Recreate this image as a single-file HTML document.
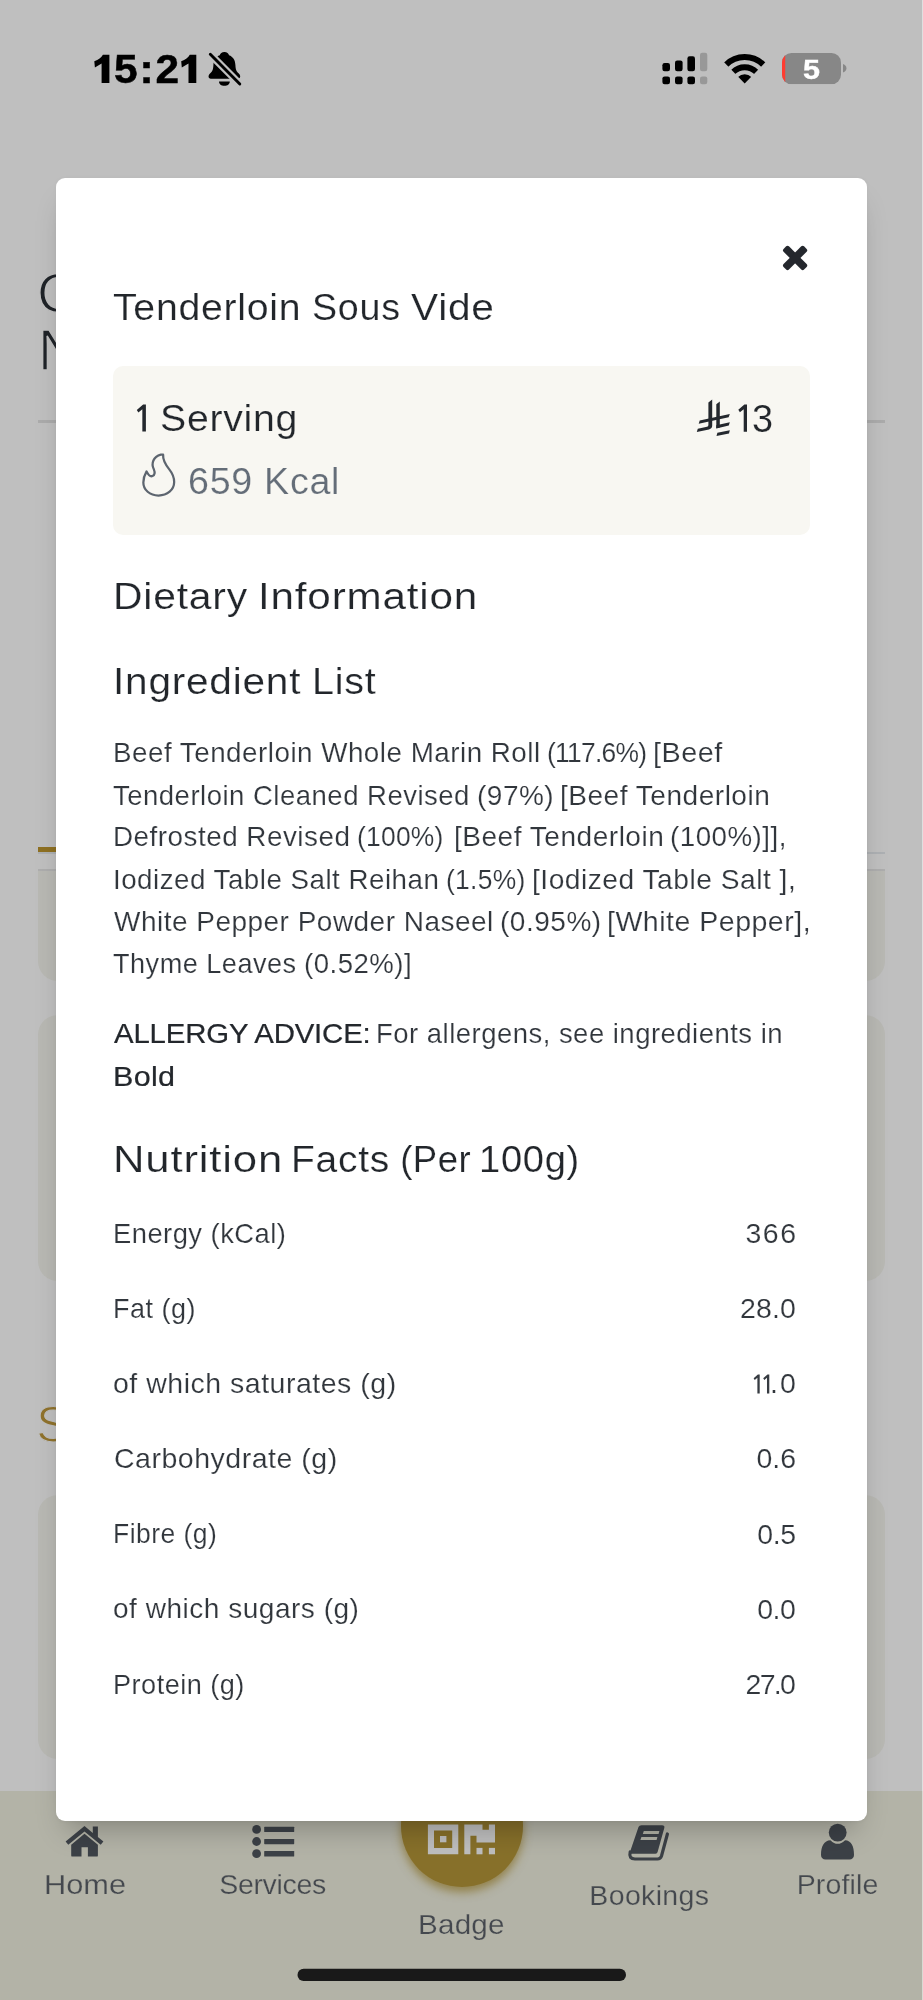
<!DOCTYPE html>
<html lang="en">
<head>
<meta charset="utf-8">
<title>Tenderloin Sous Vide</title>
<style>
html,body{margin:0;padding:0}
body{width:923px;height:2000px;position:relative;overflow:hidden;background:#bfbfbf;font-family:"Liberation Sans",sans-serif}
.abs{position:absolute}
.t{position:absolute;white-space:pre;line-height:1;transform-origin:0 0}
.h{font-size:0;letter-spacing:0;-webkit-text-stroke:0}
.layer{position:absolute;left:0;top:0;width:923px;height:2000px;will-change:transform}
.card{position:absolute;left:38px;width:847px;background:#b8b8b3}
svg{position:absolute;overflow:visible}
</style>
</head>
<body>
<!-- dimmed page behind the modal -->
<div class="layer">
<span class="t" style="left:37px;top:264.6px;font-size:56px;color:#1f2328;-webkit-text-stroke:1.4px #bfbfbf">C</span>
<span class="t" style="left:38px;top:321.5px;font-size:57px;color:#1f2328;-webkit-text-stroke:1.4px #bfbfbf">N</span>
<div class="abs" style="left:38px;top:420px;width:847px;height:2.5px;background:#ababab"></div>
<div class="abs" style="left:38px;top:852px;width:847px;height:2px;background:#adb0b3"></div>
<div class="abs" style="left:38px;top:847px;width:190px;height:5px;background:#8e7022"></div>
<div class="card" style="top:868.5px;height:112px;border-radius:0 0 20px 20px;border-top:2.5px solid #adadad;box-sizing:border-box"></div>
<div class="card" style="top:1015px;height:266px;border-radius:20px"></div>
<span class="t" style="left:36.3px;top:1400.3px;font-size:50px;color:#8f722c;-webkit-text-stroke:1.1px #bfbfbf">S</span>
<div class="card" style="top:1495px;height:264px;border-radius:20px"></div>
</div>

<!-- bottom nav -->
<div class="abs" style="left:0;top:1790.8px;width:923px;height:210px;background:#b3b3a7"></div>
<div class="abs" style="left:400.5px;top:1764.1px;width:122.6px;height:122.6px;border-radius:50%;background:#87702a;box-shadow:0 5px 10px 0 rgba(135,112,42,.75)"></div>
<svg style="left:0;top:1800px" width="923" height="200" viewBox="0 1800 923 200">
 <g fill="#3c4147">
  <!-- home -->
  <path d="M84.5 1826 L65.6 1841.6 L68.3 1844.8 L84.5 1831.4 L100.7 1844.8 L103.4 1841.6 L97.9 1837.1 V1826.4 H92.8 V1832.9 Z"/>
  <path d="M84.5 1833.7 L71.2 1844.7 V1855.4 Q71.2 1856.6 72.4 1856.6 H81.5 V1847.2 H87.9 V1856.6 H96.7 Q97.9 1856.6 97.9 1855.4 V1844.7 Z"/>
  <!-- services list -->
  <circle cx="256.6" cy="1829.4" r="4.4"/><circle cx="256.6" cy="1841.5" r="4.4"/><circle cx="256.6" cy="1853.7" r="4.4"/>
  <rect x="264.2" y="1826.7" width="30" height="5.4" rx=".6"/><rect x="264.2" y="1838.9" width="30" height="5.3" rx=".6"/><rect x="264.2" y="1851" width="30" height="5.5" rx=".6"/>
  <!-- bookings book -->
  <path d="M641.5 1825.2 H662 Q665 1825.2 664.3 1828 L657.6 1852 Q657.2 1853.7 655.5 1853.7 H631.5 Q629.5 1853.7 630.3 1851 L638.5 1827 Q639.2 1825.2 641.5 1825.2 Z"/>
  <path d="M630.2 1852 Q628.5 1859 635 1859 H657.5 Q660.5 1859 661.5 1856 L667.4 1834" fill="none" stroke="#3c4147" stroke-width="3.2" stroke-linecap="round"/>
  <path d="M643.8 1830.9 H659.4 L658.6 1834 H642.8 Z M641.4 1837 H657.4 L656.6 1840 H640.4 Z" fill="#b0b1a5"/>
  <!-- profile -->
  <mask id="pm" maskUnits="userSpaceOnUse" x="800" y="1815" width="80" height="60"><rect x="800" y="1815" width="80" height="60" fill="#fff"/><circle cx="837.7" cy="1832.6" r="10.3" fill="#000"/></mask>
  <path mask="url(#pm)" d="M821 1855 C821 1846 824 1840.5 830.5 1840.2 C833 1842.8 835.3 1843.8 837.7 1843.8 C840.1 1843.8 842.4 1842.8 844.9 1840.2 C851.4 1840.5 854 1846 854 1855 C854 1858 852 1859.4 849.5 1859.4 H825.5 C823 1859.4 821 1858 821 1855 Z"/>
  <circle cx="837.7" cy="1832.6" r="8.9"/>
 </g>
 <!-- badge qr -->
 <g fill="#bebebe">
  <path fill-rule="evenodd" d="M427.9 1824.4 H458.3 V1854.3 H427.9 Z M434 1830.5 V1847.9 H452.2 V1830.5 Z"/>
  <rect x="440" y="1836" width="6.4" height="6.3"/>
  <path d="M464.3 1824.4 H482.5 V1829.7 H488.9 V1824.4 H495 V1842.6 H476.5 V1835.8 H470.4 V1854.3 H464.3 Z"/>
  <rect x="476.5" y="1847.9" width="6" height="6.4"/><rect x="488.9" y="1847.9" width="6.1" height="6.4"/>
 </g>
 <!-- home indicator -->
 <rect x="297.5" y="1968.8" width="328.5" height="12.2" rx="6.1" fill="#191919"/>
</svg>

<!-- modal -->
<div class="abs" style="left:56px;top:178px;width:810.6px;height:1643.4px;background:#fff;border-radius:9px;box-shadow:0 18px 28px -11px rgba(0,0,0,.27),0 1px 5px rgba(0,0,0,.05)"></div>
<div class="abs" style="left:113px;top:366px;width:696.5px;height:169px;background:#f8f7f2;border-radius:10px"></div>
<svg style="left:0;top:0" width="923" height="600" viewBox="0 0 923 600">
 <!-- close -->
 <g fill="#24272d"><rect x="780.6" y="254.1" width="29" height="7.6" rx="2" transform="rotate(45 795.1 257.9)"/><rect x="780.6" y="254.1" width="29" height="7.6" rx="2" transform="rotate(-45 795.1 257.9)"/></g>
 <!-- riyal -->
 <g fill="#24282e" transform="translate(690 394)">
  <path d="M18.4 8.4 L22.2 5.4 V31.5 Q22.2 34.6 19 35.4 L6.8 38 L7.8 34.8 L17 32.8 Q18.4 32.5 18.4 31 Z"/>
  <path d="M26.3 10.3 L29.8 7.6 V33.5 L26.3 34.3 Z"/>
  <path d="M9.7 26.5 L39.8 20 L38.7 23.3 L8.7 29.8 Z"/>
  <path d="M26.3 31.2 L39.8 28.2 L38.8 31.4 L26.3 34.5 Z"/>
  <path d="M27.4 38.7 L39.8 36.3 L39 39.4 L26.5 42 Z"/>
 </g>
 <path d="M747 404.6 V431.8 H743.7 V409.2 L739.9 412.2 L738.3 409.8 L744.4 404.6 Z" fill="#24282e"/>
 <path d="M145.9 404.6 V431.5 H142.34 V409.15 L138.38 412.41 L136.80 409.94 L143.13 404.6 Z" fill="#24282e"/>
 <!-- flame -->
 <path transform="translate(123.1 442.9) scale(.92)" d="M25.5 31 C27.5 35 30 36.8 32 36 C34.5 35 34.8 32 33.5 29 C30 22 33 15 41 12.8 L43.5 12.8 C43 19 46 23.5 50 28.5 C54 33.5 55.5 38 55.5 42.5 C55.5 51 48 57.2 38.5 57.2 C29 57.2 22 51 22 43 C22 38 23.5 34.5 25.5 31 Z" fill="none" stroke="#5d656f" stroke-width="2.45" stroke-linejoin="round" style="filter:blur(.55px)"/>
 <!-- time digit 1s -->
 <path d="M109.4 54.8 V83.1 H101.6 V63.6 L94.9 67.4 L94.3 61.2 Q100.6 59 102.9 54.8 Z M196.3 54.8 V83.1 H188.5 V63.6 L181.8 67.4 L181.2 61.2 Q187.5 59 189.8 54.8 Z" fill="#000"/>
 <!-- status: bell slash -->
 <g transform="translate(200 44)">
  <path d="M24.4 7.9 C27 7.9 28.6 9.4 29 11.2 C33 12.6 35.2 16 35.4 21 C35.6 25.5 36.5 27.5 38.8 29.6 C40.8 31.5 40.8 34.7 38 34.7 L10.8 34.7 C8 34.7 8 31.5 10 29.6 C12.3 27.5 13.2 25.5 13.4 21 C13.6 16 15.8 12.6 19.8 11.2 C20.2 9.4 21.8 7.9 24.4 7.9 Z M19 37.4 H29.8 C29.8 40 27.5 41.8 24.4 41.8 C21.3 41.8 19 40 19 37.4 Z" fill="#000"/>
  <path d="M10.3 10.3 L39.8 40" stroke="#bfbfbf" stroke-width="7.4"/>
  <path d="M10.3 10.3 L39.8 40" stroke="#000" stroke-width="2.9" stroke-linecap="round"/>
 </g>
 <!-- signal -->
 <g fill="#000">
  <rect x="662.4" y="63" width="7.6" height="8.2" rx="2.2"/><rect x="675" y="60.4" width="7.6" height="10.8" rx="2.2"/><rect x="687.4" y="56.3" width="7.6" height="14.9" rx="2.2"/>
  <rect x="662.4" y="76.4" width="7.6" height="7.8" rx="2.2"/><rect x="675" y="76.4" width="7.6" height="7.8" rx="2.2"/><rect x="687.4" y="76.4" width="7.6" height="7.8" rx="2.2"/>
 </g>
 <g fill="#989898"><rect x="700" y="52.7" width="7.3" height="18.5" rx="2.2"/><rect x="700" y="76.4" width="7.3" height="7.8" rx="2.2"/></g>
 <!-- wifi -->
 <defs><clipPath id="wf"><path d="M744.7 83.6 L712 49.8 H777.4 Z"/></clipPath></defs>
 <g clip-path="url(#wf)" fill="none" stroke="#000" stroke-width="5.9">
  <circle cx="744.7" cy="83.6" r="26.6"/><circle cx="744.7" cy="83.6" r="16.4"/><circle cx="744.7" cy="83.6" r="9.4" fill="#000" stroke="none"/>
 </g>
 <!-- battery -->
 <defs><clipPath id="bt"><rect x="782" y="53" width="59" height="31.2" rx="9.5"/></clipPath></defs>
 <g clip-path="url(#bt)"><rect x="782" y="53" width="59" height="31.2" fill="#878787"/><rect x="782" y="53" width="3.2" height="31.2" fill="#ff3b30"/></g>
 <path d="M843 64 Q846.4 65.2 846.4 68.2 Q846.4 71.2 843 72.4 Z" fill="#878787"/>
</svg>

<svg style="left:0;top:1300px" width="923" height="200" viewBox="0 1300 923 200"><path d="M759.7 1374.6 V1393.6 H757.39 V1377.81 L754.74 1379.91 L753.62 1378.23 L757.88 1374.6 Z" fill="#363b41"/><path d="M769.3 1374.6 V1393.6 H766.99 V1377.81 L764.34 1379.91 L763.22 1378.23 L767.48 1374.6 Z" fill="#363b41"/></svg>
<div class="layer">
<span class="t" style="left:114.10px;top:49.34px;font-size:40px;color:#000;font-weight:700;-webkit-text-stroke:0.5px #000;letter-spacing:1.802px;transform:scaleX(1.06)"><span class="h">1</span>5:2<span class="h">1</span></span>
<span class="t" style="left:802.66px;top:56.12px;font-size:27.5px;color:#fff;font-weight:700;-webkit-text-stroke:0.4px #fff;transform:scaleX(1.1107)">5</span>
<span class="t" style="left:112.62px;top:290.40px;font-size:36.5px;color:#22262b;-webkit-text-stroke:0.2px #fff;letter-spacing:0.697px;transform:scaleX(1.074)">Tenderloin</span>
<span class="t" style="left:311.59px;top:290.40px;font-size:36.5px;color:#22262b;-webkit-text-stroke:0.2px #fff;letter-spacing:0.707px;transform:scaleX(1.031)">Sous</span>
<span class="t" style="left:411.02px;top:290.40px;font-size:36.5px;color:#22262b;-webkit-text-stroke:0.2px #fff;letter-spacing:0.696px;transform:scaleX(1.114)">Vide</span>
<span class="t" style="left:160.22px;top:399.86px;font-size:37.5px;color:#22262b;-webkit-text-stroke:0.2px #f8f7f2;letter-spacing:0.702px;transform:scaleX(1.046)"><span class="h">1 </span>Serving</span>
<span class="t" style="left:188.09px;top:463.48px;font-size:37px;color:#646d78;-webkit-text-stroke:0.2px #f8f7f2;letter-spacing:0.700px;transform:scaleX(1.017)">659 Kcal</span>
<span class="t" style="left:751.56px;top:399.29px;font-size:39px;color:#22262b;-webkit-text-stroke:0.2px #f8f7f2;transform:scaleX(0.9728)"><span class="h">1</span>3</span>
<span class="t" style="left:113.15px;top:579.10px;font-size:36.5px;color:#22262b;-webkit-text-stroke:0.2px #fff;letter-spacing:0.707px;transform:scaleX(1.119)">Dietary</span>
<span class="t" style="left:258.01px;top:579.10px;font-size:36.5px;color:#22262b;-webkit-text-stroke:0.2px #fff;letter-spacing:0.706px;transform:scaleX(1.156)">Information</span>
<span class="t" style="left:112.76px;top:664.10px;font-size:36.5px;color:#22262b;-webkit-text-stroke:0.2px #fff;letter-spacing:0.708px;transform:scaleX(1.111)">Ingredient</span>
<span class="t" style="left:312.06px;top:664.10px;font-size:36.5px;color:#22262b;-webkit-text-stroke:0.2px #fff;letter-spacing:0.696px;transform:scaleX(1.082)">List</span>
<span class="t" style="left:113.22px;top:739.27px;font-size:27.8px;color:#31363c;-webkit-text-stroke:0.18px #fff;letter-spacing:0.502px;transform:scaleX(0.999)">Beef Tenderloin Whole Marin Roll</span>
<span class="t" style="left:546.66px;top:739.27px;font-size:27.8px;color:#31363c;-webkit-text-stroke:0.18px #fff;letter-spacing:-0.785px;transform:scaleX(0.95)">(117.6%)</span>
<span class="t" style="left:652.95px;top:739.27px;font-size:27.8px;color:#31363c;-webkit-text-stroke:0.18px #fff;letter-spacing:0.499px;transform:scaleX(1.036)">[Beef</span>
<span class="t" style="left:113.38px;top:781.57px;font-size:27.8px;color:#31363c;-webkit-text-stroke:0.18px #fff;letter-spacing:0.507px;transform:scaleX(0.989)">Tenderloin Cleaned Revised</span>
<span class="t" style="left:476.86px;top:781.57px;font-size:27.8px;color:#31363c;-webkit-text-stroke:0.18px #fff;letter-spacing:0.496px;transform:scaleX(1.007)">(97%)</span>
<span class="t" style="left:560.00px;top:781.57px;font-size:27.8px;color:#31363c;-webkit-text-stroke:0.18px #fff;letter-spacing:0.504px;transform:scaleX(1.009)">[Beef Tenderloin</span>
<span class="t" style="left:113.22px;top:823.47px;font-size:27.8px;color:#31363c;-webkit-text-stroke:0.18px #fff;letter-spacing:0.498px;transform:scaleX(1.001)">Defrosted Revised</span>
<span class="t" style="left:357.26px;top:823.47px;font-size:27.8px;color:#31363c;-webkit-text-stroke:0.18px #fff;letter-spacing:0.262px;transform:scaleX(0.95)">(100%)</span>
<span class="t" style="left:454.00px;top:823.47px;font-size:27.8px;color:#31363c;-webkit-text-stroke:0.18px #fff;letter-spacing:0.504px;transform:scaleX(1.009)">[Beef Tenderloin</span>
<span class="t" style="left:670.08px;top:823.47px;font-size:27.8px;color:#31363c;-webkit-text-stroke:0.18px #fff;letter-spacing:0.497px;transform:scaleX(0.997)">(100%)]],</span>
<span class="t" style="left:112.94px;top:865.67px;font-size:27.8px;color:#31363c;-webkit-text-stroke:0.18px #fff;letter-spacing:0.504px;transform:scaleX(0.997)">Iodized Table Salt Reihan</span>
<span class="t" style="left:445.96px;top:865.67px;font-size:27.8px;color:#31363c;-webkit-text-stroke:0.18px #fff;letter-spacing:0.336px;transform:scaleX(0.95)">(1.5%)</span>
<span class="t" style="left:532.19px;top:865.67px;font-size:27.8px;color:#31363c;-webkit-text-stroke:0.18px #fff;letter-spacing:0.501px;transform:scaleX(1.013)">[Iodized Table Salt ],</span>
<span class="t" style="left:113.88px;top:907.87px;font-size:27.8px;color:#31363c;-webkit-text-stroke:0.18px #fff;letter-spacing:0.496px;transform:scaleX(1.006)">White Pepper Powder Naseel</span>
<span class="t" style="left:500.06px;top:907.87px;font-size:27.8px;color:#31363c;-webkit-text-stroke:0.18px #fff;letter-spacing:0.505px;transform:scaleX(1.008)">(0.95%)</span>
<span class="t" style="left:607.17px;top:907.87px;font-size:27.8px;color:#31363c;-webkit-text-stroke:0.18px #fff;letter-spacing:0.502px;transform:scaleX(1.025)">[White Pepper],</span>
<span class="t" style="left:113.39px;top:950.07px;font-size:27.8px;color:#31363c;-webkit-text-stroke:0.18px #fff;letter-spacing:0.497px;transform:scaleX(0.975)">Thyme Leaves</span>
<span class="t" style="left:304.29px;top:950.07px;font-size:27.8px;color:#31363c;-webkit-text-stroke:0.18px #fff;letter-spacing:0.497px;transform:scaleX(0.992)">(0.52%)]</span>
<span class="t" style="left:114.44px;top:1019.07px;font-size:28.5px;color:#23272c;-webkit-text-stroke:0.22px #23272c;letter-spacing:-0.149px;transform:scaleX(1.03)">ALLERGY ADVICE:</span>
<span class="t" style="left:376.25px;top:1019.67px;font-size:27.8px;color:#31363c;-webkit-text-stroke:0.18px #fff;letter-spacing:0.497px;transform:scaleX(0.988)">For allergens, see ingredients in</span>
<span class="t" style="left:113.00px;top:1062.37px;font-size:28.5px;color:#23272c;-webkit-text-stroke:0.22px #23272c;letter-spacing:0.289px;transform:scaleX(1.07)">Bold</span>
<span class="t" style="left:112.62px;top:1142.10px;font-size:36.5px;color:#22262b;-webkit-text-stroke:0.2px #fff;letter-spacing:0.695px;transform:scaleX(1.196)">Nutrition</span>
<span class="t" style="left:291.41px;top:1142.10px;font-size:36.5px;color:#22262b;-webkit-text-stroke:0.2px #fff;letter-spacing:0.696px;transform:scaleX(1.067)">Facts</span>
<span class="t" style="left:400.24px;top:1142.10px;font-size:36.5px;color:#22262b;-webkit-text-stroke:0.2px #fff;letter-spacing:0.467px">(Per</span>
<span class="t" style="left:478.90px;top:1142.10px;font-size:36.5px;color:#22262b;-webkit-text-stroke:0.2px #fff;letter-spacing:0.692px;transform:scaleX(1.043)">100g)</span>
<span class="t" style="left:113.26px;top:1219.67px;font-size:27.8px;color:#31363c;-webkit-text-stroke:0.18px #fff;letter-spacing:0.500px;transform:scaleX(0.983)">Energy (kCal)</span>
<span class="t" style="left:745.51px;top:1219.07px;font-size:28.5px;color:#31363c;-webkit-text-stroke:0.18px #fff;letter-spacing:1.488px">366</span>
<span class="t" style="left:113.29px;top:1295.07px;font-size:27.8px;color:#31363c;-webkit-text-stroke:0.18px #fff;letter-spacing:0.498px;transform:scaleX(0.971)">Fat (g)</span>
<span class="t" style="left:739.97px;top:1294.47px;font-size:28.5px;color:#31363c;-webkit-text-stroke:0.18px #fff;letter-spacing:0.154px">28.0</span>
<span class="t" style="left:113.10px;top:1370.07px;font-size:27.8px;color:#31363c;-webkit-text-stroke:0.18px #fff;letter-spacing:0.501px;transform:scaleX(1.025)">of which saturates (g)</span>
<span class="t" style="left:770.10px;top:1369.47px;font-size:28.5px;color:#31363c;-webkit-text-stroke:0.18px #fff;letter-spacing:2.034px"><span class="h">11</span>.0</span>
<span class="t" style="left:114.05px;top:1445.07px;font-size:27.8px;color:#31363c;-webkit-text-stroke:0.18px #fff;letter-spacing:0.496px;transform:scaleX(1.026)">Carbohydrate (g)</span>
<span class="t" style="left:756.39px;top:1444.47px;font-size:28.5px;color:#31363c;-webkit-text-stroke:0.18px #fff;letter-spacing:0.020px">0.6</span>
<span class="t" style="left:113.33px;top:1520.27px;font-size:27.8px;color:#31363c;-webkit-text-stroke:0.18px #fff;letter-spacing:0.502px;transform:scaleX(0.952)">Fibre (g)</span>
<span class="t" style="left:757.19px;top:1519.67px;font-size:28.5px;color:#31363c;-webkit-text-stroke:0.18px #fff;letter-spacing:-0.407px">0.5</span>
<span class="t" style="left:113.12px;top:1595.47px;font-size:27.8px;color:#31363c;-webkit-text-stroke:0.18px #fff;letter-spacing:0.494px;transform:scaleX(1.009)">of which sugars (g)</span>
<span class="t" style="left:757.19px;top:1594.87px;font-size:28.5px;color:#31363c;-webkit-text-stroke:0.18px #fff;letter-spacing:-0.449px">0.0</span>
<span class="t" style="left:113.28px;top:1671.07px;font-size:27.8px;color:#31363c;-webkit-text-stroke:0.18px #fff;letter-spacing:0.499px;transform:scaleX(0.975)">Protein (g)</span>
<span class="t" style="left:745.57px;top:1670.47px;font-size:28.5px;color:#31363c;-webkit-text-stroke:0.18px #fff;letter-spacing:-1.713px">27.0</span>
<span class="t" style="left:43.98px;top:1869.77px;font-size:28.5px;color:#44484e;-webkit-text-stroke:0.25px #b3b3a7;letter-spacing:-0.007px;transform:scaleX(1.08)">Home</span>
<span class="t" style="left:219.21px;top:1869.77px;font-size:28.5px;color:#44484e;-webkit-text-stroke:0.25px #b3b3a7;letter-spacing:-0.325px">Services</span>
<span class="t" style="left:417.77px;top:1909.97px;font-size:28.5px;color:#44484e;-webkit-text-stroke:0.25px #b3b3a7;letter-spacing:0.199px;transform:scaleX(1.04)">Badge</span>
<span class="t" style="left:589.36px;top:1881.17px;font-size:28.5px;color:#44484e;-webkit-text-stroke:0.25px #b3b3a7;letter-spacing:0.331px">Bookings</span>
<span class="t" style="left:796.66px;top:1869.67px;font-size:28.5px;color:#44484e;-webkit-text-stroke:0.25px #b3b3a7;letter-spacing:0.135px">Profile</span>
</div>
<div class="abs" style="left:922px;top:0;width:1px;height:2000px;background:rgba(255,255,255,.5)"></div>
</body>
</html>
